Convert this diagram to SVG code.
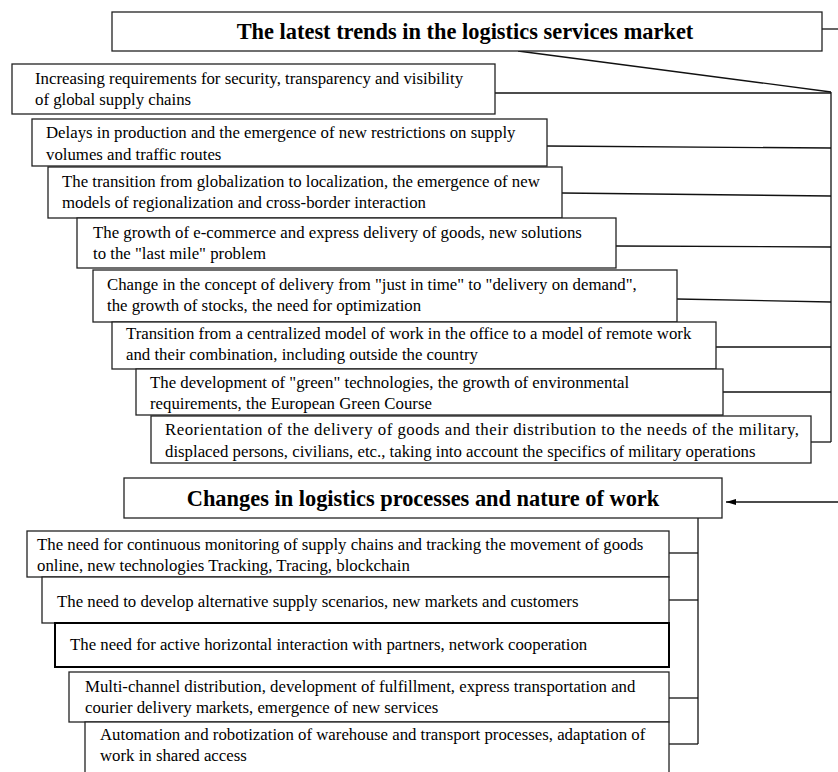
<svg xmlns="http://www.w3.org/2000/svg" width="838" height="772" viewBox="0 0 838 772">
<style>
.bx{fill:#fff;stroke:#222;stroke-width:1.3}
.bx2{fill:#fff;stroke:#000;stroke-width:2}
.t{font-family:"Liberation Serif","Times New Roman",serif;font-size:16.8px;fill:#000}
.h{font-family:"Liberation Serif","Times New Roman",serif;font-size:22.4px;font-weight:bold;fill:#000;text-anchor:middle}
.c{stroke:#111;stroke-width:1.3;fill:none}
</style>
<defs>
<marker id="arr" viewBox="0 0 10 6" refX="10" refY="3" markerWidth="10" markerHeight="6" markerUnits="userSpaceOnUse" orient="auto">
<path d="M0,0 L10,3 L0,6 Z" fill="#000"/>
</marker>
</defs>
<rect width="838" height="772" fill="#fff"/>
<g id="connectors">
<line class="c" x1="822" y1="29" x2="838" y2="29"/>
<line class="c" x1="518" y1="51" x2="831" y2="92"/>
<line class="c" x1="831" y1="92" x2="831" y2="442"/>
<line class="c" x1="495" y1="93" x2="831" y2="93"/>
<line class="c" x1="547" y1="146" x2="831" y2="148"/>
<line class="c" x1="562" y1="193" x2="831" y2="196"/>
<line class="c" x1="616" y1="246" x2="831" y2="247"/>
<line class="c" x1="677" y1="299" x2="831" y2="302"/>
<line class="c" x1="716" y1="347" x2="831" y2="347"/>
<line class="c" x1="723" y1="392" x2="831" y2="392"/>
<line class="c" x1="811" y1="442" x2="831" y2="442"/>
<line class="c" x1="838" y1="502" x2="726" y2="502" marker-end="url(#arr)"/>
<line class="c" x1="698" y1="518" x2="698" y2="744"/>
<line class="c" x1="669" y1="553" x2="698" y2="553"/>
<line class="c" x1="669" y1="600" x2="698" y2="600"/>
<line class="c" x1="669" y1="698" x2="698" y2="698"/>
<line class="c" x1="669" y1="744" x2="698" y2="744"/>
</g>
<g id="title-trends">
<rect class="bx" x="112" y="12" width="710" height="39"/>
<text class="h" x="465" y="39">The latest trends in the logistics services market</text>
</g>
<g id="trend-1">
<rect class="bx" x="12" y="64" width="483" height="50"/>
<text class="t" x="35" y="84">Increasing requirements for security, transparency and visibility</text>
<text class="t" x="35" y="105">of global supply chains</text>
</g>
<g id="trend-2">
<rect class="bx" x="32" y="119" width="515" height="47"/>
<text class="t" x="46" y="138">Delays in production and the emergence of new restrictions on supply</text>
<text class="t" x="46" y="160">volumes and traffic routes</text>
</g>
<g id="trend-3">
<rect class="bx" x="48" y="167" width="514" height="51"/>
<text class="t" x="62" y="187">The transition from globalization to localization, the emergence of new</text>
<text class="t" x="62" y="208">models of regionalization and cross-border interaction</text>
</g>
<g id="trend-4">
<rect class="bx" x="77" y="218" width="539" height="50"/>
<text class="t" x="93" y="238">The growth of e-commerce and express delivery of goods, new solutions</text>
<text class="t" x="93" y="259">to the "last mile" problem</text>
</g>
<g id="trend-5">
<rect class="bx" x="93" y="270" width="584" height="52"/>
<text class="t" x="107" y="290">Change in the concept of delivery from "just in time" to "delivery on demand",</text>
<text class="t" x="107" y="311">the growth of stocks, the need for optimization</text>
</g>
<g id="trend-6">
<rect class="bx" x="112" y="322" width="604" height="47"/>
<text class="t" x="126" y="339">Transition from a centralized model of work in the office to a model of remote work</text>
<text class="t" x="126" y="360">and their combination, including outside the country</text>
</g>
<g id="trend-7">
<rect class="bx" x="136" y="369" width="587" height="46"/>
<text class="t" x="150" y="388">The development of "green" technologies, the growth of environmental</text>
<text class="t" x="150" y="409">requirements, the European Green Course</text>
</g>
<g id="trend-8">
<rect class="bx" x="151" y="416" width="660" height="47"/>
<text class="t" x="165" y="435" textLength="634" lengthAdjust="spacing">Reorientation of the delivery of goods and their distribution to the needs of the military,</text>
<text class="t" x="165" y="457">displaced persons, civilians, etc., taking into account the specifics of military operations</text>
</g>
<g id="title-changes">
<rect class="bx" x="124" y="478" width="598" height="40"/>
<text class="h" x="423" y="506">Changes in logistics processes and nature of work</text>
</g>
<g id="change-1">
<rect class="bx" x="27" y="531" width="642" height="46"/>
<text class="t" x="37" y="550">The need for continuous monitoring of supply chains and tracking the movement of goods</text>
<text class="t" x="37" y="571">online, new technologies Tracking, Tracing, blockchain</text>
</g>
<g id="change-2">
<rect class="bx" x="42" y="577" width="627" height="46"/>
<text class="t" x="57" y="607">The need to develop alternative supply scenarios, new markets and customers</text>
</g>
<g id="change-3">
<rect class="bx2" x="55" y="623" width="614" height="44"/>
<text class="t" x="70" y="650">The need for active horizontal interaction with partners, network cooperation</text>
</g>
<g id="change-4">
<rect class="bx" x="69" y="672" width="600" height="50"/>
<text class="t" x="85" y="692">Multi-channel distribution, development of fulfillment, express transportation and</text>
<text class="t" x="85" y="713">courier delivery markets, emergence of new services</text>
</g>
<g id="change-5">
<rect class="bx" x="85" y="722" width="584" height="60"/>
<text class="t" x="100" y="740">Automation and robotization of warehouse and transport processes, adaptation of</text>
<text class="t" x="100" y="761">work in shared access</text>
</g>
</svg>
